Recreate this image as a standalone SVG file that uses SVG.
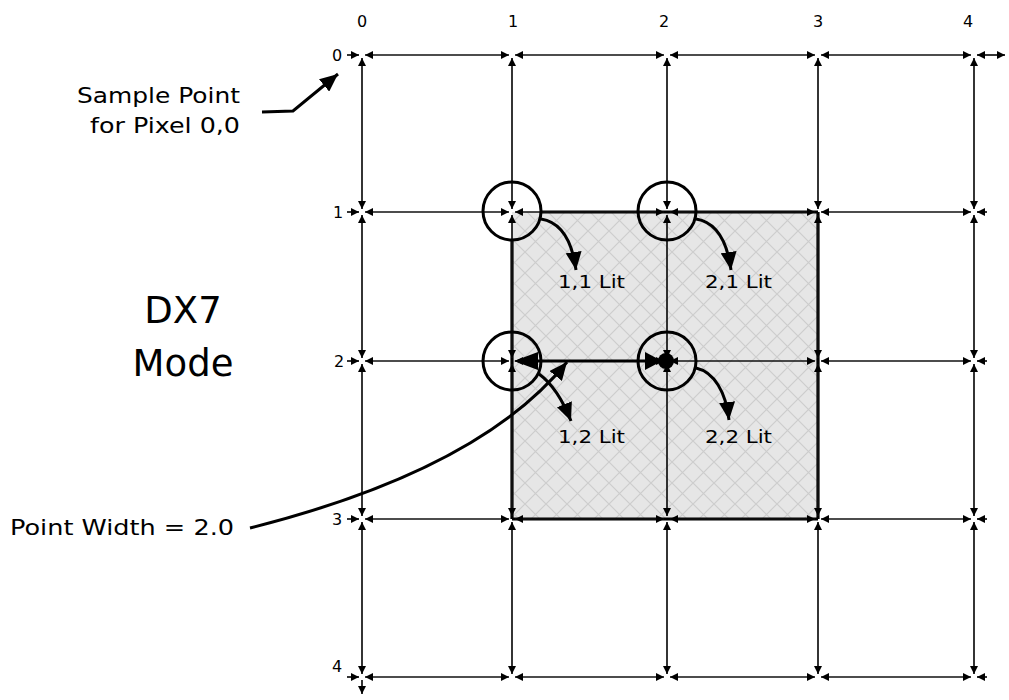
<svg xmlns="http://www.w3.org/2000/svg" width="1009" height="700" viewBox="0 0 1009 700">
<style>
text{font-family:"DejaVu Sans","Verdana",sans-serif;fill:#000}
.lab{font-size:16px;text-anchor:middle}
.note{font-size:21px}
.lit{font-size:17px}
.big{font-size:37px;text-anchor:middle}
.g{stroke:#111;stroke-width:1.7;fill:none;marker-start:url(#a);marker-end:url(#a)}
.ge{stroke:#111;stroke-width:1.7;fill:none;marker-end:url(#a)}
.thick{stroke:#000;stroke-width:3.2;fill:none}
.circ{stroke:#000;stroke-width:3;fill:none}
.call{stroke:#000;stroke-width:3;fill:none;marker-end:url(#b)}
</style>
<defs>
<marker id="a" markerUnits="userSpaceOnUse" markerWidth="9" markerHeight="9" refX="8" refY="4" orient="auto-start-reverse" viewBox="0 0 9 9"><path d="M0,0 L8,4 L0,8 z" fill="#000"/></marker>
<marker id="b" markerUnits="userSpaceOnUse" markerWidth="20" markerHeight="16" refX="18" refY="8" orient="auto" viewBox="0 0 20 16"><path d="M0,0 L18,8 L0,16 z" fill="#000"/></marker>
<pattern id="hatch" patternUnits="userSpaceOnUse" width="21" height="21"><rect width="21" height="21" fill="#e6e6e6"/><path d="M0,0 L21,21 M21,0 L0,21" stroke="#cdcdcd" stroke-width="1.2"/></pattern>
</defs>

<g id="lit-area">
<rect x="512" y="212" width="306" height="307" fill="url(#hatch)"/>
<path class="thick" d="M540,212 L818,212 M512,240 L512,519 M818,212 L818,519 M512,519 L818,519"/>
</g>

<g id="connectors">
<g id="row0"><path class="ge" d="M347,55 L359,55"/><path class="g" d="M365,55 L509,55"/><path class="g" d="M515,55 L664,55"/><path class="g" d="M670,55 L815,55"/><path class="g" d="M821,55 L971,55"/><path class="g" d="M977,55 L1005,55"/></g>
<g id="row1"><path class="ge" d="M347,212 L359,212"/><path class="g" d="M365,212 L509,212"/><path class="g" d="M515,212 L664,212"/><path class="g" d="M670,212 L815,212"/><path class="g" d="M821,212 L971,212"/><path class="ge" d="M987,212 L977,212"/></g>
<g id="row2"><path class="ge" d="M347,361 L359,361"/><path class="g" d="M365,361 L509,361"/><path class="g" d="M515,361 L664,361"/><path class="g" d="M670,361 L815,361"/><path class="g" d="M821,361 L971,361"/><path class="ge" d="M987,361 L977,361"/></g>
<g id="row3"><path class="ge" d="M347,519 L359,519"/><path class="g" d="M365,519 L509,519"/><path class="g" d="M515,519 L664,519"/><path class="g" d="M670,519 L815,519"/><path class="g" d="M821,519 L971,519"/><path class="ge" d="M987,519 L977,519"/></g>
<g id="row4"><path class="ge" d="M347,677 L359,677"/><path class="g" d="M365,677 L509,677"/><path class="g" d="M515,677 L664,677"/><path class="g" d="M670,677 L815,677"/><path class="g" d="M821,677 L971,677"/><path class="ge" d="M987,677 L977,677"/></g>
<g id="col0"><path class="g" d="M362,58 L362,209"/><path class="g" d="M362,215 L362,358"/><path class="g" d="M362,364 L362,516"/><path class="g" d="M362,522 L362,674"/><path class="ge" d="M362,680 L362,694"/></g>
<g id="col1"><path class="g" d="M512,58 L512,209"/><path class="g" d="M512,215 L512,358"/><path class="g" d="M512,364 L512,516"/><path class="g" d="M512,522 L512,674"/></g>
<g id="col2"><path class="g" d="M667,58 L667,209"/><path class="g" d="M667,215 L667,358"/><path class="g" d="M667,364 L667,516"/><path class="g" d="M667,522 L667,674"/></g>
<g id="col3"><path class="g" d="M818,58 L818,209"/><path class="g" d="M818,215 L818,358"/><path class="g" d="M818,364 L818,516"/><path class="g" d="M818,522 L818,674"/></g>
<g id="col4"><path class="g" d="M974,58 L974,209"/><path class="g" d="M974,215 L974,358"/><path class="g" d="M974,364 L974,516"/><path class="g" d="M974,522 L974,674"/></g>

<g id="width-bar">
<path d="M530,361 L652,361" stroke="#000" stroke-width="3"/>
<polygon points="514,361 538,352 538,370" fill="#000"/>
<polygon points="645,352 662,361 645,370" fill="#000"/>
<circle cx="666" cy="361" r="8" fill="#000"/>
</g>

<path class="call" d="M541,219 C560,222 572,240 576,270"/>
<path class="call" d="M696,219 C715,222 727,240 731,270"/>
<path class="call" d="M539,374 Q558,388 571,421"/>
<path class="call" d="M696,368 C714,372 726,392 729,420"/>
<path class="call" d="M250,528 Q480,470 567,362"/>
<path class="call" d="M262,112 L293,111 L338,74"/>
</g>

<g id="circles">
<circle class="circ" cx="512" cy="211" r="29"/>
<circle class="circ" cx="667" cy="211" r="29"/>
<circle class="circ" cx="512" cy="361" r="29"/>
<circle class="circ" cx="667" cy="361" r="29"/>
</g>

<g id="col-labels">
<text class="lab" x="362" y="27">0</text>
<text class="lab" x="513" y="27">1</text>
<text class="lab" x="664" y="27">2</text>
<text class="lab" x="818" y="27">3</text>
<text class="lab" x="968" y="27">4</text>
</g>
<g id="row-labels">
<text class="lab" x="337" y="61">0</text>
<text class="lab" x="338" y="218">1</text>
<text class="lab" x="339" y="367">2</text>
<text class="lab" x="337" y="525">3</text>
<text class="lab" x="337" y="672">4</text>
</g>

<g id="lit-labels">
<text class="lit" x="558" y="288" textLength="67" lengthAdjust="spacingAndGlyphs">1,1 Lit</text>
<text class="lit" x="705" y="288" textLength="67" lengthAdjust="spacingAndGlyphs">2,1 Lit</text>
<text class="lit" x="558" y="443" textLength="67" lengthAdjust="spacingAndGlyphs">1,2 Lit</text>
<text class="lit" x="705" y="443" textLength="67" lengthAdjust="spacingAndGlyphs">2,2 Lit</text>
</g>

<g id="sample-note">
<text class="note" x="77" y="103" textLength="163" lengthAdjust="spacingAndGlyphs">Sample Point</text>
<text class="note" x="90" y="133" textLength="150" lengthAdjust="spacingAndGlyphs">for Pixel 0,0</text>
</g>

<g id="width-note">
<text class="note" x="10" y="535" textLength="224" lengthAdjust="spacingAndGlyphs">Point Width = 2.0</text>
</g>

<g id="mode-title">
<text class="big" x="183" y="323">DX7</text>
<text class="big" x="183" y="376">Mode</text>
</g>
</svg>
